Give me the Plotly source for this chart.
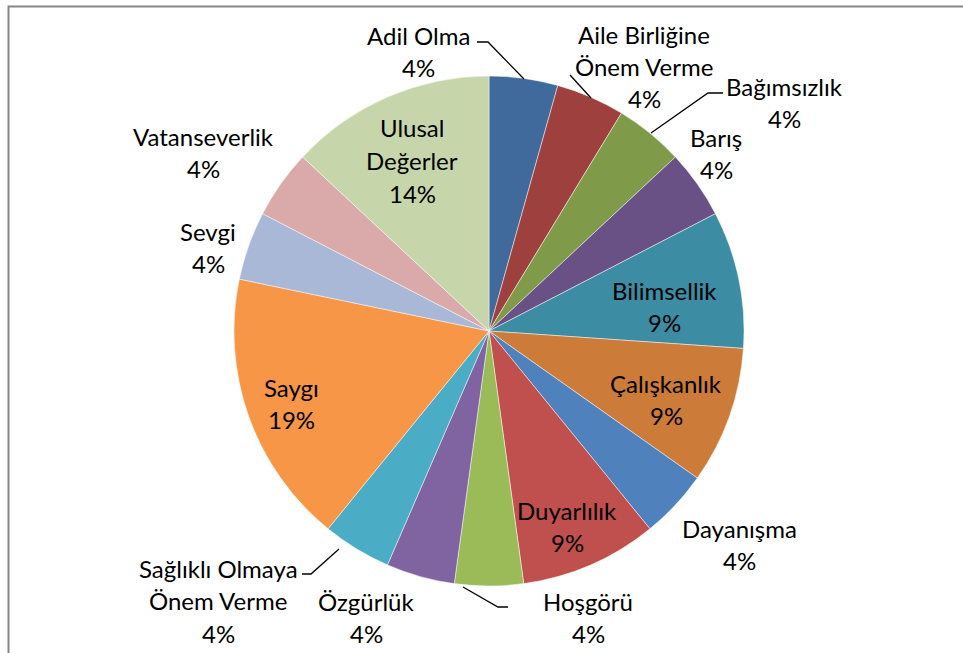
import plotly.graph_objects as go

W, H = 963, 653

categories = ["Adil Olma", "Aile Birliğine Önem Verme", "Bağımsızlık", "Barış",
              "Bilimsellik", "Çalışkanlık", "Dayanışma", "Duyarlılık", "Hoşgörü",
              "Özgürlük", "Sağlıklı Olmaya Önem Verme", "Saygı", "Sevgi",
              "Vatanseverlik", "Ulusal Değerler"]
values = [1, 1, 1, 1, 2, 2, 1, 2, 1, 1, 1, 4, 1, 1, 3]
percent_labels = ["4%", "4%", "4%", "4%", "9%", "9%", "4%", "9%", "4%",
                  "4%", "4%", "19%", "4%", "4%", "14%"]
label_lines = [["Adil Olma"], ["Aile Birliğine", "Önem Verme"], ["Bağımsızlık"], ["Barış"],
               ["Bilimsellik"], ["Çalışkanlık"], ["Dayanışma"], ["Duyarlılık"], ["Hoşgörü"],
               ["Özgürlük"], ["Sağlıklı Olmaya", "Önem Verme"], ["Saygı"], ["Sevgi"],
               ["Vatanseverlik"], ["Ulusal", "Değerler"]]

colors = ["#3F6A9B", "#9E413E", "#7F9A48", "#695185", "#3C8DA3", "#CC7B38",
          "#4F81BD", "#C0504D", "#9BBB59", "#8064A2", "#4BACC6", "#F79646",
          "#A9B8D6", "#D9AAA9", "#C6D6AA"]

# label anchor positions in pixels (first line center)
label_pos = [(418, 35), (644, 34), (784, 86), (716, 137), (664, 290), (666, 383),
             (739, 528), (567, 510), (588, 601), (366, 601), (218, 568), (291, 387),
             (208, 231), (203, 136), (412, 128)]
LINE_H = 32.5

leaders = [[(477, 42), (488, 42), (524, 79)],
           [(570, 75), (591, 98)],
           [(651, 133), (708, 93), (723, 93)],
           [(463, 587), (498, 607), (508, 607)],
           [(339, 549), (311, 574), (302, 574)]]

cx, cy, r = 489, 331, 255

fig = go.Figure(go.Pie(
    labels=categories, values=values, sort=False, direction="clockwise", rotation=0,
    marker=dict(colors=colors, line=dict(color="rgba(255,255,255,0.6)", width=0.8)),
    textinfo="none", hoverinfo="label+percent", showlegend=False,
    domain=dict(x=[(cx - r) / W, (cx + r) / W], y=[1 - (cy + r) / H, 1 - (cy - r) / H]),
))

def px(x):
    return x / W

def py(y):
    return 1 - y / H

annotations = []
for lines, pct, (x0, y0) in zip(label_lines, percent_labels, label_pos):
    for i, t in enumerate(lines + [pct]):
        annotations.append(dict(x=px(x0), y=py(y0 + i * LINE_H), xref="paper", yref="paper",
                                text=t, showarrow=False, xanchor="center", yanchor="middle",
                                font=dict(family="Lato", size=24, color="black")))

shapes = []
for pts in leaders:
    path = "M " + " L ".join(f"{px(x):.5f},{py(y):.5f}" for x, y in pts)
    shapes.append(dict(type="path", xref="paper", yref="paper", path=path,
                       line=dict(color="black", width=1.3)))
# chart frame (left and top edges visible)
shapes.append(dict(type="path", xref="paper", yref="paper",
                   path=f"M {px(8.5):.5f},0 L {px(8.5):.5f},{py(6.5):.5f} L 1,{py(6.5):.5f}",
                   line=dict(color="#868686", width=2)))

fig.update_layout(width=W, height=H, margin=dict(l=0, r=0, t=0, b=0),
                  paper_bgcolor="white", plot_bgcolor="white",
                  annotations=annotations, shapes=shapes)

fig.write_html("out.html", config={"displayModeBar": False},
               post_script="document.body.style.margin='0';document.body.style.overflow='hidden';")
